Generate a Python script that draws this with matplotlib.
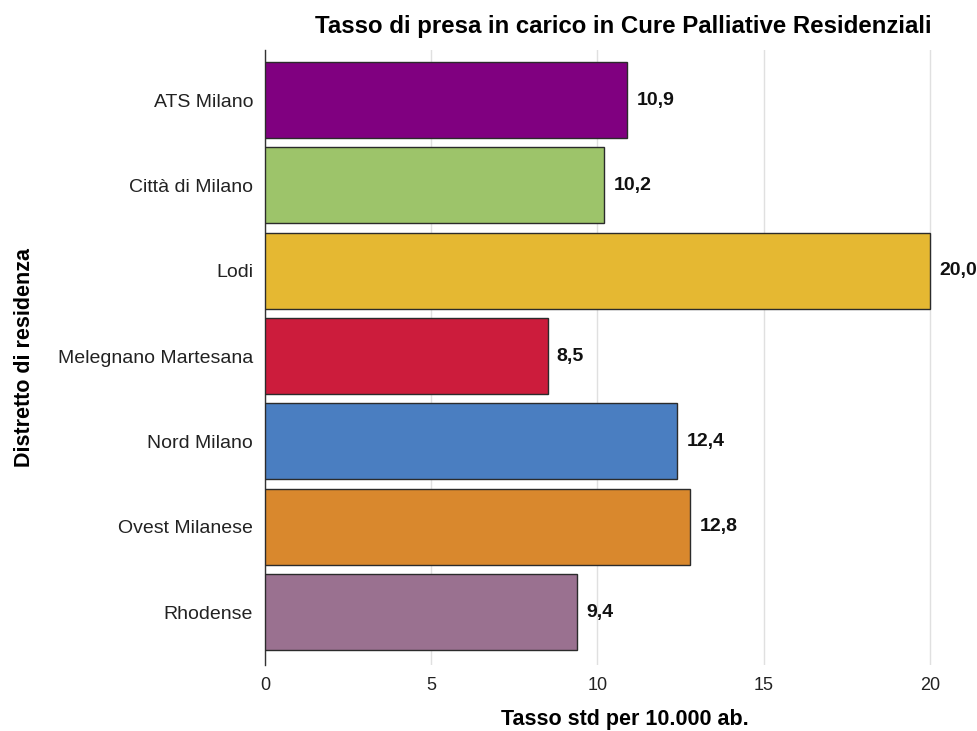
import matplotlib
matplotlib.use("Agg")
import matplotlib.pyplot as plt

districts = ["ATS Milano", "Città di Milano", "Lodi", "Melegnano Martesana",
             "Nord Milano", "Ovest Milanese", "Rhodense"]
rates = [10.9, 10.2, 20.0, 8.5, 12.4, 12.8, 9.4]
colors = ["#800080", "#9DC46A", "#E5B832", "#CC1C3C", "#4A7EC1", "#D9882D", "#9A7190"]
xticks = [0, 5, 10, 15, 20]

plt.rcParams["font.family"] = ["Liberation Sans", "DejaVu Sans"]

fig = plt.figure(figsize=(9.77, 7.31), dpi=100)
ax = fig.add_axes([265 / 977, 66 / 731, 698 / 977, 615 / 731])

pos = list(range(len(districts)))
ax.barh(pos, rates, height=0.89, color=colors, edgecolor="#2b2b2b", linewidth=1.0, zorder=3)

for p, v in zip(pos, rates):
    ax.text(v + 0.28, p, f"{v:.1f}".replace(".", ","), va="center", ha="left",
            fontsize=14, fontweight="bold", color="#111111", zorder=4)

ax.set_ylim(6.621, -0.586)
ax.set_xlim(0, 21)
ax.set_yticks(pos)
ax.set_yticklabels(districts, fontsize=14)
ax.set_xticks(xticks)
ax.set_xticklabels([str(t) for t in xticks], fontsize=13)
ax.tick_params(axis="both", length=0, colors="#222222")
ax.tick_params(axis="x", pad=9)
ax.tick_params(axis="y", pad=8.6)

ax.grid(axis="x", color="#e0e0e0", linewidth=1.0, zorder=0)
for s in ["top", "right", "bottom"]:
    ax.spines[s].set_visible(False)
ax.spines["left"].set_color("#333333")
ax.spines["left"].set_linewidth(1.0)

ax.set_xlabel("Tasso std per 10.000 ab.", fontsize=15.5, fontweight="bold")
ax.xaxis.set_label_coords(0.516, -0.0715)
ax.set_ylabel("Distretto di residenza", fontsize=15.5, fontweight="bold")
ax.yaxis.set_label_coords(-0.33, 0.5)
ax.set_title("Tasso di presa in carico in Cure Palliative Residenziali",
             fontsize=17.3, fontweight="bold", pad=12, x=0.514)

fig.savefig("out.png", dpi=100)
